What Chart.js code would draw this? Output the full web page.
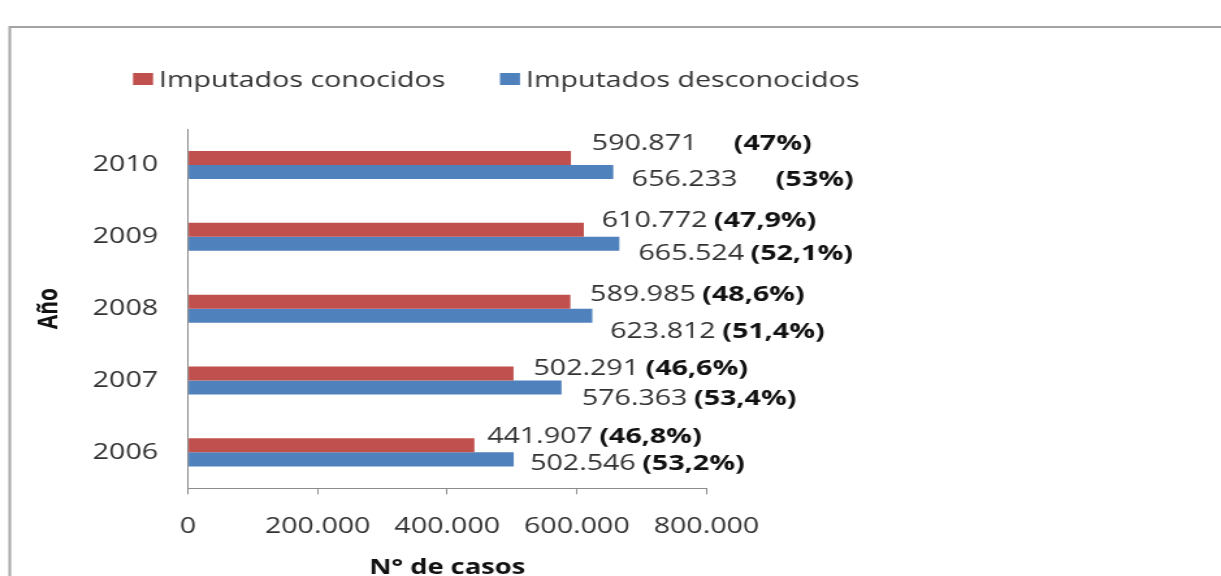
<!DOCTYPE html>
<html>
<head>
<meta charset="utf-8">
<script src="https://cdn.jsdelivr.net/npm/chart.js@4.4.1/dist/chart.umd.min.js"></script>
<style>
    html, body { margin: 0; padding: 0; background: #fff; overflow: hidden; }
    /* the chart is drawn narrow and widened, like the scanned figure */
    #wrap { width: 939px; height: 576px; transform: scaleX(1.3003); transform-origin: 0 0; }
</style>
</head>
<body>
<div id="wrap"><canvas id="imputados-chart" width="939" height="576"></canvas></div>
<script>
var years = ['2006', '2007', '2008', '2009', '2010'];
var conocidos = [441907, 502291, 589985, 610772, 590871];
var desconocidos = [502546, 576363, 623812, 665524, 656233];
var pctConocidos = ['46,8%', '46,6%', '48,6%', '47,9%', '47%'];
var pctDesconocidos = ['53,2%', '53,4%', '51,4%', '52,1%', '53%'];
var xTicks = [0, 200000, 400000, 600000, 800000];

var FONT = "'Open Sans', sans-serif";
var TEXT_GREY = '#333333';

var formatMiles = function (value) {
    return String(value).replace(/\B(?=(\d{3})+(?!\d))/g, '.');
};

// grey frame around the figure
var framePlugin = {
    id: 'frame',
    beforeDraw: function (chart) {
        var ctx = chart.ctx;
        ctx.save();
        ctx.fillStyle = '#ffffff';
        ctx.fillRect(0, 0, chart.width, chart.height);
        ctx.strokeStyle = '#a3a3a3';
        ctx.lineWidth = 2;
        ctx.beginPath();
        ctx.moveTo(7.5, chart.height + 5);
        ctx.lineTo(7.5, 27);
        ctx.lineTo(chart.width + 5, 27);
        ctx.stroke();
        ctx.restore();
    }
};

// legend row above the plot, built from the datasets
var legendPlugin = {
    id: 'legendRow',
    afterDraw: function (chart) {
        var ctx = chart.ctx;
        var x = 102.3;
        ctx.save();
        ctx.font = '500 22px ' + FONT;
        ctx.textBaseline = 'alphabetic';
        chart.data.datasets.forEach(function (ds) {
            ctx.fillStyle = ds.backgroundColor;
            ctx.fillRect(x, 73, 15.4, 12);
            ctx.fillStyle = TEXT_GREY;
            ctx.fillText(ds.label, x + 20, 86.9);
            x += 20 + ctx.measureText(ds.label).width + 42;
        });
        ctx.restore();
    }
};

// value + percentage next to each bar
var valueLabelPlugin = {
    id: 'valueLabels',
    afterDatasetsDraw: function (chart, args, opts) {
        var ctx = chart.ctx;
        ctx.save();
        ctx.textBaseline = 'alphabetic';
        ctx.textAlign = 'left';
        chart.data.datasets.forEach(function (ds, di) {
            var meta = chart.getDatasetMeta(di);
            meta.data.forEach(function (bar, i) {
                var nudge = opts.nudge[di][i];
                var x = bar.x + nudge[0];
                var y = bar.y + nudge[1] + 7.9;
                var valueText = formatMiles(ds.data[i]);
                ctx.font = '500 22px ' + FONT;
                ctx.fillStyle = TEXT_GREY;
                ctx.fillText(valueText, x, y);
                x += ctx.measureText(valueText).width + opts.gap[di][i];
                ctx.font = 'bold 22px ' + FONT;
                ctx.fillStyle = '#111111';
                ctx.fillText('(' + ds.percents[i] + ')', x, y);
            });
        });
        ctx.restore();
    }
};

var context = document.getElementById('imputados-chart');

var chart = new Chart(context, {
    type: 'bar',
    data: {
        labels: years,
        datasets: [
            {
                label: 'Imputados conocidos',
                data: conocidos,
                percents: pctConocidos,
                backgroundColor: '#c0504d',
                borderWidth: 0
            },
            {
                label: 'Imputados desconocidos',
                data: desconocidos,
                percents: pctDesconocidos,
                backgroundColor: '#4f81bd',
                borderWidth: 0
            }
        ]
    },
    options: {
        indexAxis: 'y',
        responsive: false,
        animation: false,
        devicePixelRatio: 1,
        categoryPercentage: 0.39,
        barPercentage: 1,
        layout: {
            padding: { top: 129, right: 395.7, bottom: 0, left: 0 }
        },
        plugins: {
            legend: { display: false },
            tooltip: { enabled: false },
            valueLabels: {
                // [dx, dy] from the end of each bar
                nudge: [
                    [[9.8, -10.4], [15.3, -6.8], [15.2, -8.3], [13.8, -10.8], [16, -16.2]],
                    [[12.6, 2.3], [15.6, 9.2], [13.7, 14.4], [14.7, 8.5], [14.2, 6.6]]
                ],
                gap: [[5, 5, 5, 5, 28], [5, 5, 5, 5, 29.5]]
            }
        },
        scales: {
            x: {
                min: xTicks[0],
                max: xTicks[xTicks.length - 1],
                afterBuildTicks: function (scale) {
                    scale.ticks = xTicks.map(function (v) { return { value: v }; });
                },
                afterFit: function (scale) {
                    scale.height = 576 - 488.3;
                },
                grid: {
                    display: true,
                    drawOnChartArea: false,
                    drawTicks: true,
                    tickLength: 6,
                    color: '#8c8c8c'
                },
                border: { display: true, color: '#8c8c8c', width: 1 },
                ticks: {
                    padding: 19.5,
                    color: TEXT_GREY,
                    font: { family: FONT, size: 22, weight: 500 },
                    maxRotation: 0,
                    callback: function (value) { return formatMiles(value); }
                },
                title: {
                    display: true,
                    text: 'N° de casos',
                    color: '#111111',
                    font: { family: FONT, size: 21, weight: 'bold', lineHeight: 1 },
                    padding: { top: 0, bottom: -2.5 }
                }
            },
            y: {
                reverse: true,
                afterFit: function (scale) {
                    scale.width = 144.6;
                },
                grid: { display: false, drawTicks: false },
                border: { display: true, color: '#8c8c8c', width: 1 },
                ticks: {
                    padding: 23,
                    color: TEXT_GREY,
                    font: { family: FONT, size: 22, weight: 500 }
                },
                title: {
                    display: true,
                    text: 'Año',
                    color: '#111111',
                    font: { family: FONT, size: 21, weight: 'bold', lineHeight: 1 },
                    padding: { top: 27.2, bottom: 0 }
                }
            }
        }
    },
    plugins: [framePlugin, legendPlugin, valueLabelPlugin]
});
</script>
</body>
</html>
